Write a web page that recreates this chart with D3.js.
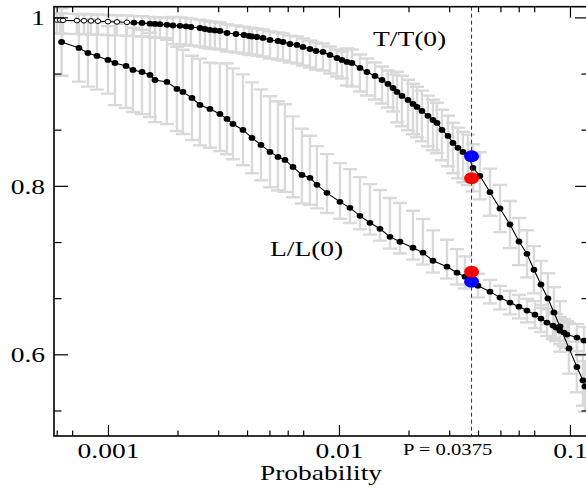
<!DOCTYPE html>
<html>
<head>
<meta charset="utf-8">
<script src="https://cdn.jsdelivr.net/npm/d3@7"></script>
<style>
  html, body { margin: 0; padding: 0; background: #fff; }
  svg { display: block; font-family: "Liberation Serif", "Times New Roman", serif; }
</style>
</head>
<body>
<svg id="chart" width="586" height="490"></svg>
<script>
// ---- data -------------------------------------------------------------
// T/T(0) versus probability
const tProb = [0.000601,0.000620,0.000639,0.000734,0.000787,0.000844,0.000905,0.001000,0.001094,0.001208,
  0.001296,0.001404,0.001520,0.001598,0.001679,0.001800,0.001912,0.002050,0.002177,0.002287,
  0.002502,0.002630,0.002764,0.002905,0.003053,0.003275,0.003583,0.003879,0.004078,0.004202,
  0.004416,0.004688,0.005029,0.005445,0.005723,0.006135,0.006579,0.006984,0.007489,0.007952,
  0.008527,0.009142,0.009802,0.01030,0.01083,0.01138,0.01233,0.01322,0.01432,0.01536,
  0.01630,0.01713,0.01783,0.01874,0.01990,0.02091,0.02177,0.02287,0.02428,0.02552,
  0.02657,0.02792,0.02965,0.03115,0.03275,0.03442,0.03617,0.03803,0.04077,0.04506,
  0.04978,0.05500,0.06016,0.06515,0.06985,0.07489,0.08029,0.08525,0.09051,0.09901,
  0.1072,0.1138,0.1161];
const tVal = [0.9969,0.9969,0.9965,0.9962,0.9960,0.9958,0.9955,0.9950,0.9946,0.9942,
  0.9938,0.9934,0.9926,0.9922,0.9920,0.9912,0.9904,0.9900,0.9894,0.9886,
  0.9874,0.9862,0.9851,0.9845,0.9839,0.9815,0.9803,0.9791,0.9779,0.9773,
  0.9767,0.9756,0.9732,0.9720,0.9708,0.9684,0.9673,0.9649,0.9625,0.9601,
  0.9590,0.9554,0.9518,0.9495,0.9471,0.9459,0.9400,0.9352,0.9305,0.9257,
  0.9210,0.9162,0.9115,0.9068,0.9020,0.8973,0.8937,0.8890,0.8831,0.8783,
  0.8747,0.8664,0.8593,0.8510,0.8451,0.8403,0.8368,0.8214,0.8119,0.7925,
  0.7731,0.7541,0.7339,0.7193,0.7004,0.6829,0.6663,0.6497,0.6331,0.6070,
  0.5849,0.5690,0.5619];
const tErrUp = [0.008,0.008,0.008,0.008,0.008,0.008,0.008,0.008,0.008,0.008,
  0.008,0.008,0.008,0.008,0.008,0.008,0.010,0.010,0.010,0.010,
  0.010,0.010,0.010,0.010,0.010,0.010,0.010,0.010,0.010,0.010,
  0.010,0.010,0.010,0.010,0.010,0.010,0.010,0.010,0.010,0.010,
  0.010,0.010,0.010,0.010,0.016,0.016,0.016,0.016,0.016,0.016,
  0.016,0.016,0.024,0.024,0.024,0.024,0.024,0.024,0.024,0.024,
  0.024,0.024,0.024,0.024,0.024,0.024,0.024,0.028,0.028,0.028,
  0.028,0.028,0.028,0.028,0.028,0.028,0.030,0.030,0.030,0.030,
  0.030,0.030,0.030];
const tErrDown = [0.016,0.016,0.016,0.016,0.016,0.016,0.016,0.016,0.016,0.016,
  0.016,0.016,0.016,0.016,0.016,0.016,0.022,0.022,0.022,0.022,
  0.022,0.022,0.022,0.022,0.022,0.022,0.022,0.022,0.022,0.022,
  0.022,0.022,0.022,0.022,0.022,0.022,0.022,0.022,0.022,0.022,
  0.022,0.022,0.022,0.022,0.028,0.028,0.028,0.028,0.028,0.028,
  0.028,0.028,0.036,0.036,0.036,0.036,0.036,0.036,0.036,0.036,
  0.036,0.036,0.036,0.036,0.036,0.036,0.036,0.028,0.028,0.028,
  0.028,0.028,0.028,0.028,0.028,0.028,0.030,0.030,0.030,0.030,
  0.030,0.030,0.030];

// L/L(0) versus probability
const lProb = [0.000630,0.000749,0.000819,0.000896,0.001000,0.001072,0.001197,0.001283,0.001404,0.001520,
  0.001598,0.001800,0.001989,0.002112,0.002310,0.002502,0.002764,0.003053,0.003275,0.003476,
  0.003841,0.004202,0.004597,0.005029,0.005445,0.005837,0.006323,0.006916,0.007489,0.008029,
  0.008872,0.01010,0.01116,0.01233,0.01362,0.01505,0.01663,0.01837,0.02091,0.02310,
  0.02552,0.02935,0.03243,0.03512,0.03997,0.04506,0.04978,0.05500,0.06016,0.06515,
  0.07055,0.07489,0.07952,0.08442,0.08699,0.09051,0.09419,0.09705,0.1072,0.1150];
const lVal = [0.9708,0.9637,0.9578,0.9542,0.9495,0.9459,0.9424,0.9376,0.9352,0.9317,
  0.9257,0.9234,0.9151,0.9115,0.9044,0.8961,0.8913,0.8854,0.8795,0.8735,
  0.8664,0.8569,0.8486,0.8403,0.8344,0.8308,0.8225,0.8130,0.8095,0.8012,
  0.7917,0.7810,0.7739,0.7644,0.7561,0.7490,0.7395,0.7336,0.7265,0.7206,
  0.7111,0.7040,0.6969,0.6922,0.6815,0.6744,0.6673,0.6614,0.6566,0.6519,
  0.6471,0.6424,0.6377,0.6341,0.6317,0.6281,0.6258,0.6234,0.6199,0.6163];
const lErrUp = [0.040,0.040,0.040,0.040,0.040,0.050,0.050,0.050,0.050,0.050,
  0.050,0.050,0.050,0.050,0.050,0.055,0.055,0.060,0.066,0.066,
  0.066,0.066,0.066,0.066,0.066,0.066,0.060,0.055,0.050,0.046,
  0.046,0.046,0.046,0.046,0.046,0.046,0.046,0.046,0.044,0.040,
  0.036,0.032,0.028,0.024,0.014,0.014,0.014,0.014,0.014,0.014,
  0.016,0.016,0.016,0.016,0.016,0.016,0.016,0.016,0.016,0.016];
const lErrDown = [0.040,0.040,0.040,0.040,0.040,0.050,0.050,0.050,0.050,0.050,
  0.050,0.050,0.050,0.050,0.050,0.048,0.046,0.044,0.042,0.042,
  0.042,0.042,0.042,0.042,0.040,0.038,0.036,0.034,0.032,0.028,
  0.024,0.020,0.018,0.016,0.014,0.014,0.014,0.014,0.014,0.014,
  0.014,0.014,0.014,0.014,0.014,0.014,0.014,0.014,0.014,0.014,
  0.016,0.016,0.016,0.016,0.016,0.016,0.016,0.016,0.016,0.016];

// Highlighted values at the critical probability
const pCritical = 0.0375;
const pCriticalLabel = "P = 0.0375";
const blueVals = [0.835, 0.686];
const redVals = [0.809, 0.698];

// Axis ticks
const xMajorTicks = [0.001, 0.01, 0.1];
const xTickLabels = ["0.001", "0.01", "0.1"];
const xMinorTicks = [0.0006, 0.0007, 0.002, 0.003, 0.004, 0.005, 0.006, 0.007,
  0.02, 0.03, 0.04, 0.05, 0.06, 0.07];
const yMajorTicks = [0.6, 0.8, 1.0];
const yTickLabels = ["0.6", "0.8", "1"];
const yMinorTicks = [0.5333, 0.6667, 0.7333, 0.8667, 0.9333];

const xTitle = "Probability";
const tLabel = "T/T(0)";
const lLabel = "L/L(0)";

// ---- layout -----------------------------------------------------------
const frame = { left: 54, right: 589, top: 6.7, bottom: 436 };
const stretch = 1.25;           // horizontal text stretch of the figure

const svg = d3.select("#chart");
const x = d3.scaleLog().domain([0.000584, 0.1209]).range([frame.left, frame.right]);
const y = d3.scaleLinear().domain([0.503, 1.0127]).range([frame.bottom, frame.top]);

const clip = svg.append("defs").append("clipPath").attr("id", "plotClip")
  .append("rect")
  .attr("x", frame.left).attr("y", frame.top)
  .attr("width", frame.right - frame.left).attr("height", frame.bottom - frame.top);

const plot = svg.append("g").attr("clip-path", "url(#plotClip)");

function series(px, py, up, dn) {
  return px.map((p, i) => ({ p, v: py[i], up: up[i], dn: dn[i] }));
}
const tData = series(tProb, tVal, tErrUp, tErrDown);
const lData = series(lProb, lVal, lErrUp, lErrDown);

// error bars
const capHalf = 7;
function drawErrors(data) {
  const g = plot.append("g").attr("stroke", "#d9d9d9").attr("stroke-width", 2.4).attr("fill", "none");
  data.forEach(d => {
    const cx = x(d.p);
    const y1 = y(d.v + d.up), y2 = y(d.v - d.dn);
    g.append("line").attr("x1", cx).attr("x2", cx).attr("y1", y1).attr("y2", y2);
    g.append("line").attr("x1", cx - capHalf).attr("x2", cx + capHalf).attr("y1", y1).attr("y2", y1);
    g.append("line").attr("x1", cx - capHalf).attr("x2", cx + capHalf).attr("y1", y2).attr("y2", y2);
  });
}
drawErrors(lData);
drawErrors(tData);

// connecting lines
const line = d3.line().x(d => x(d.p)).y(d => y(d.v));
[tData, lData].forEach(data => {
  plot.append("path").datum(data).attr("d", line)
    .attr("fill", "none").attr("stroke", "#000").attr("stroke-width", 1.1);
});

// markers
function drawDots(data, hollowCount) {
  plot.append("g").selectAll("ellipse").data(data).join("ellipse")
    .attr("cx", d => x(d.p)).attr("cy", d => y(d.v))
    .attr("rx", (d, i) => i < hollowCount ? 2.8 : 3.4)
    .attr("ry", (d, i) => i < hollowCount ? 2.3 : 2.9)
    .attr("fill", (d, i) => i < hollowCount ? "#fff" : "#000")
    .attr("stroke", "#000")
    .attr("stroke-width", (d, i) => i < hollowCount ? 1 : 0);
}
drawDots(tData, 10);
drawDots(lData, 0);

// highlighted points at the critical probability
const cx = x(pCritical);
plot.append("g").selectAll("ellipse").data(blueVals).join("ellipse")
  .attr("cx", cx).attr("cy", d => y(d)).attr("rx", 7.5).attr("ry", 6).attr("fill", "#0000ff");
plot.append("g").selectAll("ellipse").data(redVals).join("ellipse")
  .attr("cx", cx).attr("cy", d => y(d)).attr("rx", 7.5).attr("ry", 6).attr("fill", "#ff0000");

// dashed reference line
svg.append("line")
  .attr("x1", cx).attr("x2", cx).attr("y1", frame.top).attr("y2", frame.bottom)
  .attr("stroke", "#333").attr("stroke-width", 1).attr("stroke-dasharray", "4,3");

// ---- axes -------------------------------------------------------------
function styleAxis(g) {
  g.select(".domain").remove();
  g.selectAll(".tick line").attr("stroke", "#000").attr("stroke-width", 1.2);
}
const fmtX = d => xTickLabels[xMajorTicks.indexOf(d)];
const fmtY = d => yTickLabels[yMajorTicks.indexOf(d)];

// bottom
const gxb = svg.append("g").attr("transform", `translate(0,${frame.bottom})`)
  .call(d3.axisBottom(x).tickValues(xMajorTicks).tickFormat(fmtX).tickSizeInner(-11).tickSizeOuter(0));
styleAxis(gxb);
gxb.selectAll(".tick text")
  .attr("y", 22).attr("dy", null)
  .attr("transform", `scale(${stretch},1)`)
  .attr("font-size", 22).attr("font-family", "Liberation Serif").attr("fill", "#000");
svg.append("g").attr("transform", `translate(0,${frame.bottom})`)
  .call(d3.axisBottom(x).tickValues(xMinorTicks).tickFormat("").tickSizeInner(-5.5).tickSizeOuter(0))
  .call(styleAxis);

// top
svg.append("g").attr("transform", `translate(0,${frame.top})`)
  .call(d3.axisTop(x).tickValues(xMajorTicks).tickFormat("").tickSizeInner(-11).tickSizeOuter(0))
  .call(styleAxis);
svg.append("g").attr("transform", `translate(0,${frame.top})`)
  .call(d3.axisTop(x).tickValues(xMinorTicks).tickFormat("").tickSizeInner(-5.5).tickSizeOuter(0))
  .call(styleAxis);

// left
const gyl = svg.append("g").attr("transform", `translate(${frame.left},0)`)
  .call(d3.axisLeft(y).tickValues(yMajorTicks).tickFormat(fmtY).tickSizeInner(-14).tickSizeOuter(0));
styleAxis(gyl);
gyl.selectAll(".tick text")
  .attr("x", -9).attr("dy", "0.34em")
  .attr("transform", `scale(${stretch},1)`)
  .attr("font-size", 22).attr("font-family", "Liberation Serif").attr("fill", "#000");
gyl.selectAll(".tick text").attr("x", -9 / stretch);
svg.append("g").attr("transform", `translate(${frame.left},0)`)
  .call(d3.axisLeft(y).tickValues(yMinorTicks).tickFormat("").tickSizeInner(-7.5).tickSizeOuter(0))
  .call(styleAxis);

// right
svg.append("g").attr("transform", `translate(${frame.right},0)`)
  .call(d3.axisRight(y).tickValues(yMajorTicks).tickFormat("").tickSizeInner(-14).tickSizeOuter(0))
  .call(styleAxis);
svg.append("g").attr("transform", `translate(${frame.right},0)`)
  .call(d3.axisRight(y).tickValues(yMinorTicks).tickFormat("").tickSizeInner(-7.5).tickSizeOuter(0))
  .call(styleAxis);

// frame
svg.append("rect")
  .attr("x", frame.left).attr("y", frame.top)
  .attr("width", frame.right - frame.left).attr("height", frame.bottom - frame.top)
  .attr("fill", "none").attr("stroke", "#000").attr("stroke-width", 1.6);

// ---- text -------------------------------------------------------------
function stretchedText(str, tx, ty, size, anchor) {
  svg.append("text")
    .attr("transform", `translate(${tx},${ty}) scale(${stretch},1)`)
    .attr("text-anchor", anchor)
    .attr("font-size", size)
    .attr("fill", "#000")
    .text(str);
}
stretchedText(tLabel, 373, 46, 22, "start");
stretchedText(lLabel, 270, 256, 22, "start");
stretchedText(pCriticalLabel, 403, 455, 16.5, "start");
stretchedText(xTitle, 321, 480, 22, "middle");
</script>
</body>
</html>
